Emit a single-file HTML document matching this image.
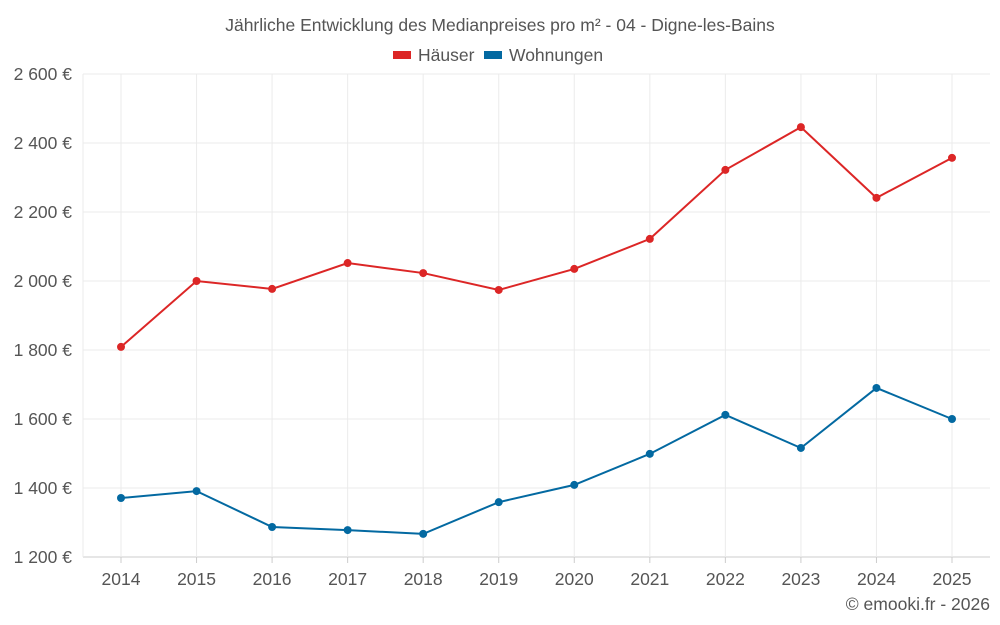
<!DOCTYPE html>
<html><head><meta charset="utf-8"><style>
body{margin:0;background:#fff;}
svg{display:block;font-family:"Liberation Sans",sans-serif;}
</style></head><body>
<svg id="chart" width="1000" height="625">
<text x="500" y="31" text-anchor="middle" font-size="17.5" fill="#555">Jährliche Entwicklung des Medianpreises pro m² - 04 - Digne-les-Bains</text>
<g>
<g><rect x="393" y="51" width="18" height="8" fill="#dc2626"/><text x="418" y="61" font-size="17.5" fill="#555">Häuser</text></g>
<g><rect x="484" y="51" width="18" height="8" fill="#0369a1"/><text x="509" y="61" font-size="17.5" fill="#555">Wohnungen</text></g>
</g>
<g id="grid"></g>
<g id="axes"></g>
<g id="series"></g>
<text x="990" y="610" text-anchor="end" font-size="17.5" fill="#555">© emooki.fr - 2026</text>
</svg>
<script>
const years=[2014,2015,2016,2017,2018,2019,2020,2021,2022,2023,2024,2025];
const haeuser=[1809,2000,1977,2052,2023,1974,2035,2122,2322,2446,2241,2357];
const wohnungen=[1371,1391,1287,1278,1267,1359,1409,1499,1612,1516,1690,1600];
const yTicks=[1200,1400,1600,1800,2000,2200,2400,2600];
const NS="http://www.w3.org/2000/svg";
const L=83,R=990,T=74,B=557,yMin=1200,yMax=2600;
const x=i=>121+i*(952-121)/(years.length-1);
const y=v=>B-(v-yMin)/(yMax-yMin)*(B-T);
function mk(tag,attrs,parent){const e=document.createElementNS(NS,tag);for(const k in attrs)e.setAttribute(k,attrs[k]);parent.appendChild(e);return e;}
const grid=document.getElementById('grid'),axes=document.getElementById('axes'),series=document.getElementById('series');
yTicks.forEach(v=>{
  const l=mk('line',{x1:L,x2:R,y1:y(v),y2:y(v),stroke:v===yMin?'#ccc':'#ebebeb'},grid);
  
  
  const t=mk('text',{x:72,y:y(v)+6,'text-anchor':'end','font-size':17.5,fill:'#555'},axes);
  t.textContent=v.toLocaleString('en').replace(',',' ')+' €';
  
  
});
mk('line',{x1:L,x2:L,y1:T,y2:B,stroke:'#ebebeb'},grid);
years.forEach((yr,i)=>{
  const l=mk('line',{x1:x(i),x2:x(i),y1:T,y2:B,stroke:'#ebebeb'},grid);
  
  
  const tk=mk('line',{x1:x(i),x2:x(i),y1:B,y2:B+6,stroke:'#ccc'},axes);
  
  
  const t=mk('text',{x:x(i),y:585,'text-anchor':'middle','font-size':17.5,fill:'#555'},axes);
  t.textContent=yr;
  
  
});
function draw(data,color,name){
  const p=mk('polyline',{points:data.map((v,i)=>x(i)+','+y(v)).join(' '),fill:'none',stroke:color,'stroke-width':2},series);
  
  
  data.forEach((v,i)=>{
    const c=mk('circle',{cx:x(i),cy:y(v),r:4,fill:color},series);
    
    
  });
}
draw(haeuser,'#dc2626','haeuser');
draw(wohnungen,'#0369a1','wohnungen');
</script>
</body></html>
